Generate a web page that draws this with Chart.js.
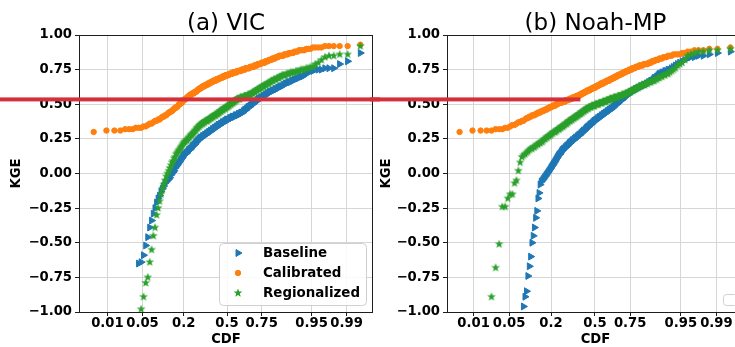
<!DOCTYPE html>
<html>
<head>
<meta charset="utf-8">
<script src="https://cdn.jsdelivr.net/npm/chart.js@4.4.1/dist/chart.umd.min.js"></script>
<style>
    html, body { margin: 0; padding: 0; background: #fff; overflow: hidden; }
    #wrap { position: relative; width: 735px; height: 347px; overflow: hidden; background: #fff; }
    canvas { position: absolute; top: 0; }
    #grafico-vic { left: 0; }
    #grafico-noah { left: 370px; }
</style>
</head>
<body>
<div id="wrap">
    <canvas id="grafico-vic" width="380" height="347"></canvas>
    <canvas id="grafico-noah" width="380" height="347"></canvas>
</div>
<script>
// Labels and ticks
const seriesLabels = ["Baseline", "Calibrated", "Regionalized"]
const panelTitles = ["(a) VIC", "(b) Noah-MP"]
const cdfTicks = [0.01, 0.05, 0.2, 0.5, 0.75, 0.95, 0.99]
const cdfTickLabels = ["0.01", "0.05", "0.2", "0.5", "0.75", "0.95", "0.99"]

// Sorted KGE values per basin (plotted against their empirical CDF)
const vicBaseline = [-2.8, -2.1, -1.8, -1.6, -1.45, -1.3, -1.2, -1.08,
    -0.65, -0.64, -0.59, -0.52, -0.46, -0.39, -0.34, -0.29, -0.25, -0.21,
    -0.18, -0.16, -0.13, -0.11, -0.09, -0.07, -0.06, -0.05, -0.04, -0.03, -0.01, 0.00,
    0.01, 0.02, 0.04, 0.05, 0.06, 0.07, 0.08, 0.09, 0.10, 0.11, 0.12, 0.13,
    0.14, 0.14, 0.15, 0.15, 0.16, 0.17, 0.17, 0.18, 0.18, 0.19, 0.20, 0.20, 0.21, 0.21, 0.22, 0.23, 0.23, 0.24, 0.24, 0.25,
    0.25, 0.26, 0.26, 0.26, 0.27, 0.27, 0.27, 0.28, 0.28, 0.28, 0.29, 0.29, 0.29, 0.30, 0.30, 0.30, 0.31, 0.31, 0.31, 0.32, 0.32, 0.32, 0.33, 0.33, 0.33, 0.34,
    0.34, 0.34, 0.35, 0.35, 0.35, 0.35, 0.36, 0.36, 0.36, 0.37, 0.37, 0.37, 0.37, 0.38, 0.38, 0.38, 0.39,
    0.39, 0.39, 0.39, 0.39, 0.40, 0.40, 0.40, 0.40, 0.41, 0.41, 0.41, 0.41, 0.41, 0.42, 0.42, 0.42, 0.42, 0.42, 0.43, 0.43, 0.43, 0.43, 0.44, 0.44, 0.44,
    0.44, 0.45, 0.45, 0.46, 0.46, 0.46, 0.47, 0.47, 0.48, 0.48, 0.48, 0.49, 0.49, 0.50, 0.50, 0.50, 0.51, 0.51, 0.52, 0.52, 0.52, 0.53, 0.53, 0.54, 0.54,
    0.54, 0.55, 0.55, 0.55, 0.56, 0.56, 0.56, 0.57, 0.57, 0.58, 0.58, 0.58, 0.59, 0.59, 0.59, 0.60, 0.60, 0.60, 0.61, 0.61, 0.61, 0.62, 0.62, 0.63,
    0.63, 0.63, 0.64, 0.64, 0.65, 0.65, 0.66, 0.66, 0.66, 0.67, 0.67, 0.68, 0.68, 0.69, 0.69, 0.70,
    0.70, 0.71, 0.72, 0.73, 0.74, 0.74, 0.75, 0.75, 0.75, 0.76, 0.76, 0.76, 0.79, 0.81, 0.87]

const vicCalibrated = [0.30, 0.31, 0.31, 0.31, 0.32, 0.32, 0.32, 0.33, 0.33, 0.33,
    0.34, 0.34, 0.35, 0.36, 0.36, 0.37, 0.38, 0.38, 0.39, 0.39,
    0.40, 0.41, 0.41, 0.42, 0.42, 0.43, 0.44, 0.44, 0.45, 0.45, 0.46, 0.47, 0.47, 0.48,
    0.48, 0.49, 0.50, 0.50, 0.51, 0.51, 0.52, 0.53, 0.53, 0.54, 0.54, 0.55, 0.55, 0.56,
    0.56, 0.57, 0.57, 0.57, 0.58, 0.58, 0.58, 0.59, 0.59, 0.59, 0.60, 0.60, 0.61, 0.61, 0.61, 0.62, 0.62,
    0.62, 0.63, 0.63, 0.63, 0.63, 0.64, 0.64, 0.64, 0.64, 0.65, 0.65, 0.65, 0.65, 0.66, 0.66, 0.66, 0.66, 0.67, 0.67, 0.67,
    0.67, 0.67, 0.68, 0.68, 0.68, 0.68, 0.68, 0.69, 0.69, 0.69, 0.69, 0.69, 0.70, 0.70, 0.70, 0.70, 0.70, 0.71, 0.71, 0.71,
    0.71, 0.71, 0.71, 0.72, 0.72, 0.72, 0.72, 0.72, 0.72, 0.73, 0.73, 0.73, 0.73, 0.73, 0.73, 0.73, 0.74, 0.74, 0.74, 0.74, 0.74,
    0.74, 0.74, 0.75, 0.75, 0.75, 0.75, 0.75, 0.75, 0.76, 0.76, 0.76, 0.76, 0.76, 0.76, 0.76, 0.77, 0.77, 0.77, 0.77, 0.77,
    0.77, 0.78, 0.78, 0.78, 0.78, 0.78, 0.79, 0.79, 0.79, 0.79, 0.79, 0.80, 0.80, 0.80, 0.80, 0.80, 0.81,
    0.81, 0.81, 0.81, 0.82, 0.82, 0.82, 0.82, 0.83, 0.83, 0.83, 0.83, 0.84, 0.84, 0.84, 0.85,
    0.85, 0.85, 0.85, 0.85, 0.86, 0.86, 0.86, 0.86, 0.87, 0.87, 0.87,
    0.87, 0.88, 0.88, 0.88, 0.89, 0.89, 0.89, 0.89,
    0.90, 0.90, 0.90, 0.91, 0.91,
    0.91, 0.91, 0.92, 0.92, 0.92, 0.92, 0.92, 0.93]

const vicRegionalized = [-3.0, -2.4, -2.0, -1.7, -1.5, -1.35, -1.25, -1.15, -1.05,
    -0.98, -0.89, -0.79, -0.75, -0.64, -0.55, -0.45, -0.39,
    -0.30, -0.25, -0.20, -0.15, -0.11, -0.08, -0.05, -0.02, 0.00, 0.02, 0.04, 0.06, 0.08, 0.09, 0.11, 0.12, 0.14,
    0.15, 0.16, 0.17, 0.18, 0.19, 0.20, 0.21, 0.22,
    0.23, 0.23, 0.24, 0.24, 0.25, 0.26, 0.26, 0.27, 0.28, 0.28, 0.29, 0.29, 0.30, 0.31, 0.31, 0.32, 0.33, 0.33, 0.34, 0.34, 0.35,
    0.35, 0.36, 0.36, 0.36, 0.37, 0.37, 0.37, 0.38, 0.38, 0.38, 0.38, 0.39, 0.39, 0.39, 0.40, 0.40, 0.40, 0.41, 0.41, 0.41, 0.42, 0.42, 0.42, 0.42, 0.43, 0.43,
    0.43, 0.44, 0.44, 0.44, 0.45, 0.45, 0.45, 0.46, 0.46, 0.46, 0.47, 0.47, 0.47, 0.47, 0.48, 0.48,
    0.48, 0.49, 0.49, 0.49, 0.50, 0.50, 0.50, 0.51, 0.51, 0.51, 0.52, 0.52, 0.52, 0.53, 0.53, 0.53, 0.54,
    0.54, 0.54, 0.54, 0.54, 0.55, 0.55, 0.55, 0.55, 0.55, 0.55, 0.56, 0.56, 0.56, 0.56, 0.56, 0.56, 0.57, 0.57, 0.57, 0.57,
    0.57, 0.58, 0.58, 0.58, 0.59, 0.59, 0.59, 0.60, 0.60, 0.60, 0.61, 0.61, 0.61, 0.62,
    0.62, 0.62, 0.63, 0.63, 0.63, 0.64, 0.64, 0.64, 0.65, 0.65, 0.65, 0.66, 0.66, 0.67, 0.67, 0.67, 0.68, 0.68, 0.68, 0.69, 0.69, 0.69, 0.70,
    0.70, 0.71, 0.71, 0.71, 0.71, 0.72, 0.72, 0.72, 0.73, 0.73, 0.73, 0.73, 0.74, 0.74, 0.74, 0.75,
    0.75, 0.75, 0.76, 0.76, 0.77, 0.77, 0.79, 0.80, 0.82, 0.84, 0.85, 0.85, 0.86, 0.86, 0.92]

const noahBaseline = [-4.0, -3.2, -2.8, -2.5, -2.3, -2.1, -1.95, -1.8, -1.7, -1.6, -1.5, -1.42, -1.35, -1.27, -1.2, -1.12, -1.05,
    -0.96, -0.89, -0.85, -0.74, -0.67, -0.60, -0.50, -0.45, -0.39, -0.32, -0.27, -0.18, -0.14, -0.08,
    -0.06, -0.05, -0.04, -0.03, -0.02, -0.01, 0.00,
    0.01, 0.02, 0.03, 0.04, 0.05, 0.06, 0.07, 0.08, 0.09, 0.10, 0.11,
    0.12, 0.13, 0.14, 0.14, 0.15, 0.16,
    0.17, 0.17, 0.18, 0.18, 0.19, 0.19, 0.20, 0.20, 0.21, 0.21, 0.22, 0.22, 0.23, 0.23, 0.24, 0.24,
    0.24, 0.25, 0.25, 0.26, 0.26, 0.26, 0.27, 0.27, 0.28, 0.28,
    0.28, 0.29, 0.29, 0.30, 0.30, 0.31, 0.31, 0.31, 0.32, 0.32, 0.33, 0.33, 0.34, 0.34, 0.34, 0.35, 0.35, 0.36, 0.36, 0.36, 0.37, 0.37, 0.38, 0.38,
    0.38, 0.39, 0.39, 0.39, 0.40, 0.40, 0.40, 0.41, 0.41, 0.41, 0.42, 0.42, 0.42, 0.43, 0.43, 0.43, 0.44, 0.44, 0.44, 0.45, 0.45, 0.45, 0.46, 0.46, 0.46, 0.47, 0.47, 0.47, 0.48,
    0.48, 0.49, 0.49, 0.50, 0.50, 0.50, 0.51, 0.51, 0.52, 0.52, 0.53, 0.53, 0.53, 0.54, 0.54, 0.55, 0.55, 0.56, 0.56, 0.57, 0.57, 0.57, 0.58, 0.58,
    0.59, 0.59, 0.59, 0.60, 0.60, 0.60, 0.61, 0.61, 0.61, 0.62, 0.62, 0.62, 0.63, 0.63, 0.63, 0.64, 0.64, 0.64, 0.65,
    0.65, 0.66, 0.66, 0.67, 0.67, 0.68, 0.69, 0.69, 0.70, 0.71,
    0.72, 0.72, 0.73, 0.73, 0.74, 0.74, 0.75, 0.75,
    0.76, 0.77, 0.78, 0.79, 0.80, 0.81, 0.82,
    0.83, 0.84, 0.84, 0.85, 0.85, 0.86, 0.87, 0.88]

const noahCalibrated = [0.30, 0.31, 0.31, 0.31, 0.31, 0.32, 0.32, 0.32, 0.33, 0.33,
    0.34, 0.35, 0.35, 0.36, 0.37, 0.37, 0.38, 0.38, 0.39, 0.40,
    0.40, 0.41, 0.41, 0.42, 0.42, 0.42, 0.43, 0.43, 0.44, 0.44, 0.44,
    0.45, 0.45, 0.45, 0.46, 0.46, 0.46, 0.47, 0.47, 0.47, 0.48, 0.48, 0.48, 0.49, 0.49, 0.49, 0.49, 0.50, 0.50,
    0.50, 0.51, 0.51, 0.51, 0.51, 0.51, 0.52, 0.52, 0.52, 0.52, 0.52, 0.53, 0.53, 0.53, 0.53, 0.53, 0.54, 0.54, 0.54, 0.54, 0.54, 0.55,
    0.55, 0.55, 0.55, 0.55, 0.56, 0.56, 0.56, 0.56, 0.56, 0.57,
    0.57, 0.57, 0.57, 0.58, 0.58, 0.58, 0.58, 0.59, 0.59, 0.59, 0.59, 0.60, 0.60, 0.60, 0.60, 0.60, 0.61, 0.61, 0.61, 0.61, 0.62, 0.62, 0.62, 0.62,
    0.62, 0.63, 0.63, 0.63, 0.63, 0.64, 0.64, 0.64, 0.64, 0.65, 0.65, 0.65, 0.65, 0.65, 0.66, 0.66, 0.66, 0.66, 0.67, 0.67, 0.67, 0.67, 0.67, 0.68, 0.68, 0.68, 0.68, 0.69, 0.69,
    0.69, 0.69, 0.70, 0.70, 0.70, 0.70, 0.71, 0.71, 0.71, 0.71, 0.72, 0.72, 0.72, 0.72, 0.73, 0.73, 0.73, 0.73, 0.74, 0.74, 0.74, 0.74, 0.75, 0.75,
    0.75, 0.75, 0.76, 0.76, 0.76, 0.76, 0.77, 0.77, 0.77, 0.77, 0.78, 0.78, 0.78, 0.78, 0.78, 0.79, 0.79, 0.79, 0.79,
    0.79, 0.80, 0.80, 0.80, 0.81, 0.81, 0.81, 0.82, 0.82, 0.82, 0.83, 0.83, 0.83,
    0.84, 0.84, 0.84, 0.85, 0.85, 0.85, 0.86, 0.86, 0.86, 0.86,
    0.87, 0.87, 0.88, 0.88, 0.89, 0.89, 0.89, 0.90, 0.90, 0.91]

const noahRegionalized = [-2.5, -1.8, -1.4, -1.15,
    -0.89, -0.68, -0.51, -0.24, -0.24, -0.18, -0.15, -0.15, -0.07, -0.05, 0.02, 0.08, 0.12, 0.13,
    0.14, 0.15, 0.16, 0.17,
    0.18, 0.18, 0.19, 0.19, 0.20, 0.21, 0.21, 0.22, 0.22, 0.23, 0.23, 0.24, 0.25, 0.25, 0.26, 0.26, 0.27, 0.27, 0.28,
    0.28, 0.29, 0.29, 0.30, 0.30, 0.30, 0.31, 0.31, 0.32, 0.32, 0.32, 0.33, 0.33, 0.34, 0.34, 0.34, 0.35, 0.35, 0.36, 0.36, 0.36, 0.37, 0.37, 0.38, 0.38,
    0.38, 0.39, 0.39, 0.39, 0.40, 0.40, 0.40, 0.41, 0.41, 0.41, 0.42, 0.42, 0.42, 0.43, 0.43, 0.43, 0.44, 0.44, 0.44, 0.45, 0.45, 0.45, 0.46, 0.46, 0.46, 0.47, 0.47, 0.47, 0.47, 0.48, 0.48,
    0.48, 0.48, 0.49, 0.49, 0.49, 0.49, 0.49, 0.49, 0.50, 0.50, 0.50, 0.50, 0.50, 0.50, 0.51, 0.51, 0.51, 0.51, 0.51, 0.51, 0.52, 0.52, 0.52, 0.52, 0.52, 0.52, 0.53, 0.53, 0.53, 0.53, 0.53, 0.54,
    0.54, 0.54, 0.54, 0.54, 0.54, 0.55, 0.55, 0.55, 0.55, 0.55, 0.55, 0.56, 0.56, 0.56, 0.56, 0.56, 0.56, 0.57, 0.57,
    0.57, 0.57, 0.57, 0.58, 0.58, 0.58, 0.58, 0.59, 0.59, 0.59,
    0.59, 0.60, 0.60, 0.60, 0.61, 0.61, 0.61, 0.62, 0.62, 0.62, 0.63, 0.63, 0.63, 0.64, 0.64, 0.64, 0.64, 0.65, 0.65, 0.65, 0.66, 0.66, 0.66, 0.67, 0.67,
    0.67, 0.68, 0.68, 0.69, 0.69, 0.70, 0.70, 0.71, 0.71, 0.72, 0.72, 0.73,
    0.74, 0.75, 0.76, 0.78, 0.79, 0.80, 0.82,
    0.85, 0.86, 0.87, 0.88, 0.88, 0.89, 0.89, 0.90]

// Horizontal red marker line: KGE level and the CDF where it stops in panel (b)
const redLineKge = 0.535
const redLineEndCdf = 0.39

const colors = ["#1f77b4", "#ff7f0e", "#2ca02c"]
const tickFont = { family: "DejaVu Sans", size: 13.2, weight: "bold" }
const gridColor = "#d6d6d6"
const spineColor = "#1e1e1e"

// Inverse of the normal CDF (probability axis)
function probit(p) {
    const a = [-39.69683028665376, 220.9460984245205, -275.9285104469687, 138.3577518672690, -30.66479806614716, 2.506628277459239]
    const b = [-54.47609879822406, 161.5858368580409, -155.6989798598866, 66.80131188771972, -13.28068155288572]
    const c = [-7.784894002430293e-03, -3.223964580411365e-01, -2.400758277161838, -2.549671350416710, 4.374664141464968, 2.938163982698783]
    const d = [7.784695709041462e-03, 3.224671290700398e-01, 2.445134137142996, 3.754408661907416]
    const pLow = 0.02425
    if (p < pLow) {
        const q = Math.sqrt(-2 * Math.log(p))
        return (((((c[0] * q + c[1]) * q + c[2]) * q + c[3]) * q + c[4]) * q + c[5]) / ((((d[0] * q + d[1]) * q + d[2]) * q + d[3]) * q + 1)
    }
    if (p > 1 - pLow) {
        const q = Math.sqrt(-2 * Math.log(1 - p))
        return -(((((c[0] * q + c[1]) * q + c[2]) * q + c[3]) * q + c[4]) * q + c[5]) / ((((d[0] * q + d[1]) * q + d[2]) * q + d[3]) * q + 1)
    }
    const q = p - 0.5
    const r = q * q
    return (((((a[0] * r + a[1]) * r + a[2]) * r + a[3]) * r + a[4]) * r + a[5]) * q / (((((b[0] * r + b[1]) * r + b[2]) * r + b[3]) * r + b[4]) * r + 1)
}

// Sorted values -> points on the probability axis (rank / (n + 1))
const toPoints = kge => kge.map((v, i) => ({ x: probit((i + 1) / (kge.length + 1)), y: v }))

// Filled five point star, like matplotlib '*'
function makeStar(color, r) {
    const size = Math.ceil(r * 2 + 2)
    const cnv = document.createElement("canvas")
    cnv.width = size
    cnv.height = size
    const c = cnv.getContext("2d")
    c.fillStyle = color
    c.beginPath()
    for (let k = 0; k < 10; k++) {
        const rad = k % 2 ? r * 0.42 : r
        const ang = -Math.PI / 2 + k * Math.PI / 5
        c.lineTo(size / 2 + rad * Math.cos(ang), size / 2 + rad * Math.sin(ang))
    }
    c.closePath()
    c.fill()
    return cnv
}
const starStyle = makeStar(colors[2], 4.6)

function montarDatasets(baseline, calibrated, regionalized) {
    return [{
        label: seriesLabels[0],
        data: toPoints(baseline),
        pointStyle: "triangle",
        pointRotation: 90,
        pointRadius: 4,
        pointBorderWidth: 1,
        backgroundColor: colors[0],
        borderColor: colors[0],
        order: 3
    }, {
        label: seriesLabels[1],
        data: toPoints(calibrated),
        pointStyle: "circle",
        pointRadius: 2.7,
        pointBorderWidth: 1,
        backgroundColor: colors[1],
        borderColor: colors[1],
        order: 2
    }, {
        label: seriesLabels[2],
        data: toPoints(regionalized),
        pointStyle: starStyle,
        pointRadius: 4.6,
        pointBorderWidth: 0,
        backgroundColor: colors[2],
        borderColor: colors[2],
        order: 1
    }]
}

function formatKge(v) {
    const s = Math.abs(v).toFixed(2)
    return v < -1e-9 ? "\u2212" + s : s
}

function drawMarker(ctx, ds, x, y) {
    ctx.save()
    ctx.fillStyle = ds.backgroundColor
    ctx.strokeStyle = ds.borderColor
    ctx.lineWidth = ds.pointBorderWidth
    if (ds.pointStyle === "triangle") {
        const r = ds.pointRadius
        ctx.beginPath()
        ctx.moveTo(x + r, y)
        ctx.lineTo(x - r / 2, y - r * 0.866)
        ctx.lineTo(x - r / 2, y + r * 0.866)
        ctx.closePath()
        ctx.fill()
        ctx.stroke()
    } else if (ds.pointStyle === "circle") {
        ctx.beginPath()
        ctx.arc(x, y, ds.pointRadius, 0, Math.PI * 2)
        ctx.fill()
        ctx.stroke()
    } else {
        ctx.drawImage(ds.pointStyle, x - ds.pointStyle.width / 2, y - ds.pointStyle.height / 2)
    }
    ctx.restore()
}

function roundRect(ctx, x, y, w, h, r) {
    ctx.beginPath()
    ctx.moveTo(x + r, y)
    ctx.arcTo(x + w, y, x + w, y + h, r)
    ctx.arcTo(x + w, y + h, x, y + h, r)
    ctx.arcTo(x, y + h, x, y, r)
    ctx.arcTo(x, y, x + w, y, r)
    ctx.closePath()
}

// Frame, title, legend box and red line
const panelPlugin = {
    id: "panel",
    afterDatasetsDraw(chart, args, opts) {
        const { ctx, chartArea: a } = chart
        ctx.save()
        ctx.strokeStyle = spineColor
        ctx.lineWidth = 1
        ctx.strokeRect(a.left + 0.5, a.top + 0.5, a.width - 1, a.height)

        // legend
        const lw = opts.legend ? 147 : 14
        const lh = opts.legend ? 62 : 11
        const lx = a.right - 7 - lw
        const ly = a.bottom - 7 - lh
        roundRect(ctx, lx + 0.5, ly + 0.5, lw, lh, opts.legend ? 4 : 3)
        ctx.fillStyle = "rgba(255,255,255,0.85)"
        ctx.fill()
        ctx.strokeStyle = "#d0d0d0"
        ctx.stroke()
        if (opts.legend) {
            ctx.font = "bold 13.4px 'DejaVu Sans'"
            ctx.fillStyle = "#000"
            ctx.textAlign = "left"
            ctx.textBaseline = "middle"
            chart.data.datasets.forEach((ds, i) => {
                const y = ly + 10 + i * 20
                drawMarker(ctx, ds, lx + 19, y)
                ctx.fillText(ds.label, lx + 44, y + 1)
            })
        }
        ctx.restore()
    },
    afterDraw(chart, args, opts) {
        const { ctx, chartArea: a, scales } = chart
        ctx.save()
        ctx.font = "23px 'DejaVu Sans'"
        ctx.fillStyle = "#000"
        ctx.textAlign = "center"
        ctx.textBaseline = "alphabetic"
        ctx.fillText(opts.title, (a.left + a.right) / 2, 30)

        // red line over everything
        const y = scales.y.getPixelForValue(redLineKge)
        const xEnd = opts.redEndCdf ? scales.x.getPixelForValue(probit(opts.redEndCdf)) : chart.width
        ctx.fillStyle = "#d5303a"
        ctx.fillRect(0, y - 2, xEnd, 4)
        ctx.restore()
    }
}

function criarGrafico(id, titulo, datasets, xMin, xMax, yWidth, padRight, legenda, redEnd) {
    return new Chart(document.getElementById(id), {
        type: "scatter",
        data: { datasets: datasets },
        options: {
            responsive: false,
            animation: false,
            layout: { padding: { top: 35, right: padRight, left: 0, bottom: 0 } },
            plugins: {
                legend: { display: false },
                tooltip: { enabled: false },
                panel: { title: titulo, legend: legenda, redEndCdf: redEnd }
            },
            scales: {
                x: {
                    type: "linear",
                    min: xMin,
                    max: xMax,
                    afterBuildTicks: scale => {
                        scale.ticks = cdfTicks.map(p => ({ value: probit(p) }))
                    },
                    afterFit: scale => { scale.height = 35 },
                    ticks: {
                        autoSkip: false,
                        maxRotation: 0,
                        padding: 0,
                        color: "#000",
                        font: tickFont,
                        callback: (v, i) => cdfTickLabels[i]
                    },
                    grid: { color: gridColor, tickColor: spineColor, tickLength: 4, lineWidth: 1 },
                    border: { display: false },
                    title: { display: true, text: "CDF", color: "#000", font: tickFont, padding: { top: 0, bottom: 0 } }
                },
                y: {
                    min: -1,
                    max: 1,
                    afterFit: scale => { scale.width = yWidth },
                    ticks: {
                        stepSize: 0.25,
                        padding: 3,
                        color: "#000",
                        font: tickFont,
                        callback: v => formatKge(v)
                    },
                    grid: { color: gridColor, tickColor: spineColor, tickLength: 4, lineWidth: 1 },
                    border: { display: false },
                    title: { display: true, text: "KGE", color: "#000", font: tickFont, padding: { top: 9, bottom: 0 } }
                }
            }
        },
        plugins: [panelPlugin]
    })
}

const chartVic = criarGrafico("grafico-vic", panelTitles[0],
    montarDatasets(vicBaseline, vicCalibrated, vicRegionalized), -2.88, 2.84, 79, 7, true, null)

const chartNoah = criarGrafico("grafico-noah", panelTitles[1],
    montarDatasets(noahBaseline, noahCalibrated, noahRegionalized), -2.835, 2.855, 77, 6, false, redLineEndCdf)
</script>
</body>
</html>
